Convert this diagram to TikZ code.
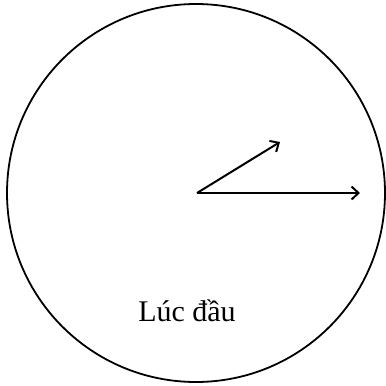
\documentclass[tikz,border=0pt]{standalone}
\usepackage{fontspec}
\newfontfamily\vnfont{Liberation Serif}
\usetikzlibrary{arrows.meta}
\begin{document}
\begin{tikzpicture}[x=1pt,y=-1pt,
  vec/.style={line width=2pt,-{Straight Barb[length=7pt,width=13pt,line width=2pt]}},
  lbl/.style={font=\vnfont\fontsize{30}{34}\selectfont,inner sep=0pt}]
\useasboundingbox (0,0) rectangle (386,386);
\node[draw,circle,line width=1.8pt,minimum size=378pt,inner sep=0pt] (c) at (196,193) {};
\coordinate (o) at (197,193);
\coordinate (a) at (360,193);
\coordinate (b) at (280,142);
\draw[vec] (o) -- (a);
\draw[vec] (o) -- (b);
\node[lbl] (t) at (187,311) {Lúc đầu};
\end{tikzpicture}
\end{document}
